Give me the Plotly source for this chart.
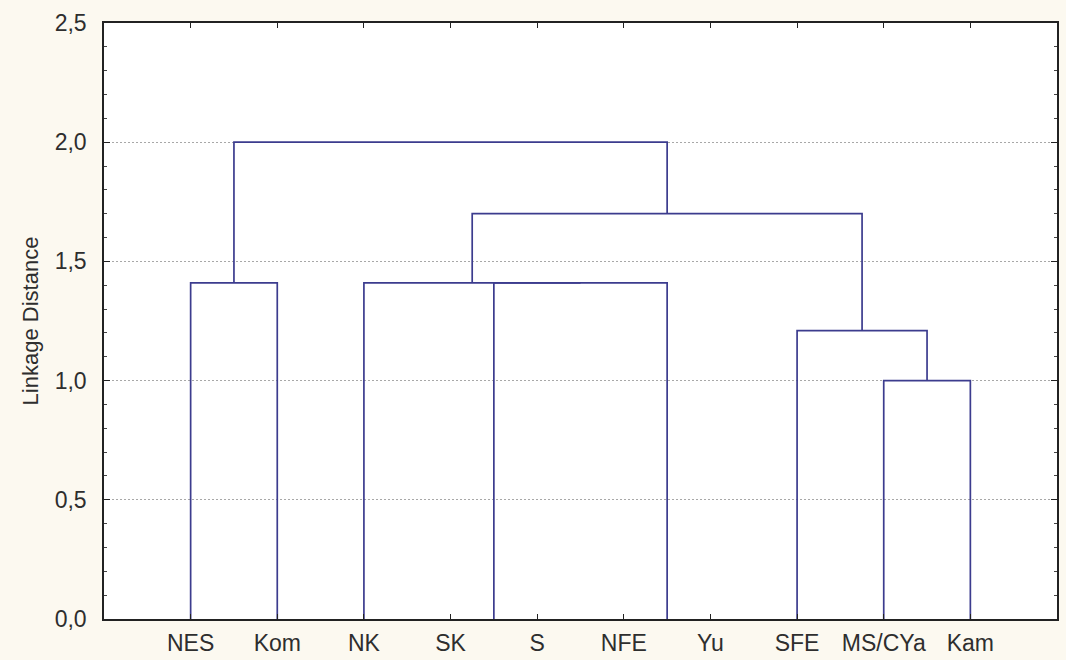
import plotly.graph_objects as go

# Leaves of the tree, in display order (positions 1..10 on the x axis)
leaves = ["NES", "Kom", "NK", "SK", "S", "NFE", "Yu", "SFE", "MS/CYa", "Kam"]

# Agglomeration steps: members are leaf indices (0..9) or earlier clusters (10, 11, ...)
merge_left = [3, 5, 10, 2, 0, 8, 7, 13, 14]
merge_right = [4, 6, 11, 12, 1, 9, 15, 16, 17]
merge_height = [0.0, 0.0, 1.41, 1.41, 1.41, 1.00, 1.21, 1.70, 2.00]

y_ticks = [0.0, 0.5, 1.0, 1.5, 2.0, 2.5]
y_tick_text = [f"{v:.1f}".replace(".", ",") for v in y_ticks]

LINE_COLOR = "#3c3c8e"
TEXT_COLOR = "#2e2e2e"
FONT = "Liberation Sans, Arial, sans-serif"

# Position and height of every node
pos = [float(i + 1) for i in range(len(leaves))]
height = [0.0] * len(leaves)

xs, ys = [], []
for a, b, h in zip(merge_left, merge_right, merge_height):
    xa, xb = pos[a], pos[b]
    if h > 0:
        xs += [xa, xa, xb, xb, None]
        ys += [height[a], h, h, height[b], None]
    pos.append((xa + xb) / 2)
    height.append(h)

fig = go.Figure()
fig.add_trace(go.Scatter(
    x=xs, y=ys, mode="lines",
    line=dict(color=LINE_COLOR, width=1.7),
    hoverinfo="skip", showlegend=False,
))

fig.update_layout(
    width=1066, height=660,
    margin=dict(l=104, r=9, t=23, b=41),
    paper_bgcolor="#fcf9f0",
    plot_bgcolor="#ffffff",
    font=dict(family=FONT, color=TEXT_COLOR, size=23),
    showlegend=False,
)

fig.update_xaxes(
    range=[0, 11],
    automargin=False,
    tickmode="array",
    tickvals=[i + 1 for i in range(len(leaves))],
    ticktext=leaves,
    ticks="inside", ticklen=5, tickcolor="#222222",
    ticklabelstandoff=3,
    showgrid=False, zeroline=False,
    showline=True, linecolor="#222222", linewidth=1.5,
    mirror="allticks",
    tickfont=dict(size=23, family=FONT, color=TEXT_COLOR),
)

fig.update_yaxes(
    range=[0, 2.5],
    automargin=False,
    tickmode="array",
    tickvals=y_ticks,
    ticktext=y_tick_text,
    ticks="inside", ticklen=6, tickcolor="#222222",
    ticklabelstandoff=11,
    minor=dict(ticks="inside", dtick=0.1, ticklen=3, tickcolor="#444444", showgrid=False),
    showgrid=True, gridcolor="#a8a8a8", griddash="2px,2px", gridwidth=1,
    zeroline=False,
    showline=True, linecolor="#222222", linewidth=1.5,
    mirror="allticks",
    tickfont=dict(size=23, family=FONT, color=TEXT_COLOR),
    title=dict(text="Linkage Distance", font=dict(size=22, family=FONT, color=TEXT_COLOR), standoff=10),
)

fig.write_html("out.html")
